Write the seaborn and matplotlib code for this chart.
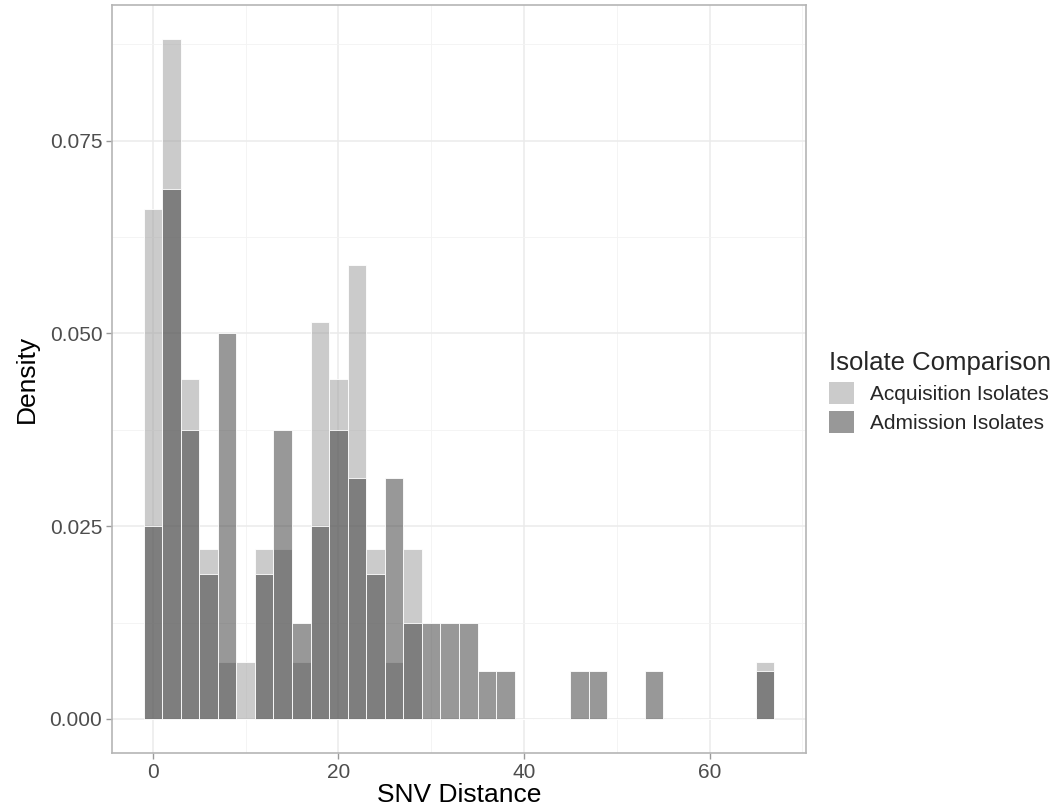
import numpy as np
import matplotlib
matplotlib.use("Agg")
import matplotlib.pyplot as plt
from matplotlib.patches import Patch
from matplotlib.ticker import MultipleLocator
import seaborn as sns

# Bin centres (SNV distance, binwidth 2) and isolate counts
acq_bins = [0, 2, 4, 6, 8, 10, 12, 14, 16, 18, 20, 22, 24, 26, 28, 66]
acq_counts = [9, 12, 6, 3, 1, 1, 3, 3, 1, 7, 6, 8, 3, 1, 3, 1]

adm_bins = [0, 2, 4, 6, 8, 12, 14, 16, 18, 20, 22, 24, 26, 28, 30, 32, 34,
            36, 38, 46, 48, 54, 66]
adm_counts = [4, 11, 6, 3, 8, 3, 6, 2, 4, 6, 5, 3, 5, 2, 2, 2, 2,
              1, 1, 1, 1, 1, 1]

group_names = ["Acquisition Isolates", "Admission Isolates"]
group_colors = ["#999999", "#333333"]

acq = np.repeat(acq_bins, acq_counts)
adm = np.repeat(adm_bins, adm_counts)

sns.set_style("white")
plt.rcParams['font.family'] = ['Liberation Sans', 'DejaVu Sans']

fig = plt.figure(figsize=(10.62, 8.09), dpi=100)
ax = fig.add_axes([112 / 1062, 56 / 809, 694 / 1062, 748 / 809])

for data, color in zip([acq, adm], group_colors):
    sns.histplot(x=data, stat="density", binwidth=2, binrange=(-1, 67),
                 color=color, alpha=0.5, edgecolor="white", linewidth=0.6,
                 ax=ax)

ax.set_xlim(-4.4, 70.4)
ax.set_ylim(-0.00441, 0.0926)
ax.set_xticks([0, 20, 40, 60])
ax.set_yticks([0, 0.025, 0.05, 0.075])
ax.set_yticklabels(["0.000", "0.025", "0.050", "0.075"])
ax.xaxis.set_minor_locator(MultipleLocator(10))
ax.yaxis.set_minor_locator(MultipleLocator(0.0125))
ax.set_axisbelow(True)
ax.grid(which="major", color="#ebebeb", linewidth=1.1)
ax.grid(which="minor", color="#f3f3f3", linewidth=0.6)

for s in ax.spines.values():
    s.set_color("#b5b5b5")
    s.set_linewidth(1.2)

ax.tick_params(which="major", length=4, width=1.0, color="#999999",
               labelsize=15, labelcolor="#4d4d4d", bottom=True, left=True,
               pad=3)
ax.tick_params(which="minor", length=0)
ax.set_xlabel("SNV Distance", fontsize=19, color="black", labelpad=1)
ax.set_ylabel("Density", fontsize=19, color="black", labelpad=8)

handles = [Patch(facecolor=c, alpha=0.5, edgecolor="none") for c in group_colors]
leg = fig.legend(handles, group_names, title="Isolate Comparison",
                 loc="center left", bbox_to_anchor=(810 / 1062, 1 - 392 / 809),
                 frameon=False, fontsize=15, title_fontsize=18.5,
                 handlelength=1.2, handleheight=1.2, handletextpad=0.8,
                 labelspacing=0.35)
leg._legend_box.align = "left"

fig.savefig("out.png", dpi=100)
